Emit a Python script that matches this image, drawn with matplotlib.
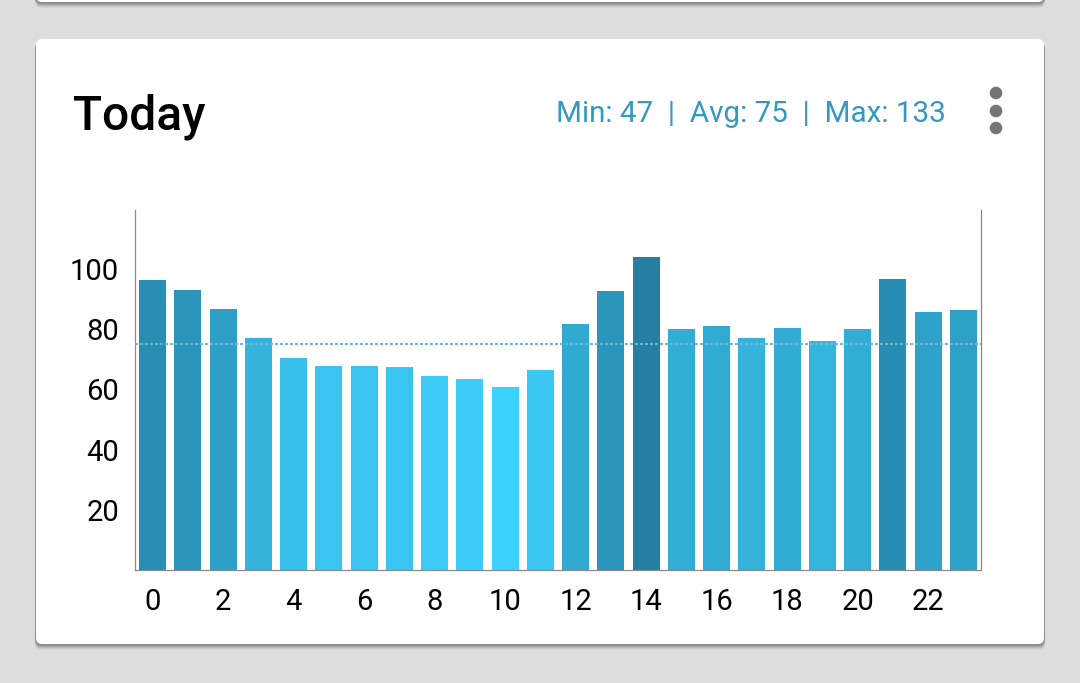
import numpy as np
import matplotlib
matplotlib.use('Agg')
import matplotlib.pyplot as plt
from matplotlib.patches import FancyBboxPatch, Circle
from matplotlib.colors import to_rgb

plt.rcParams['font.family'] = ['Roboto', 'DejaVu Sans']

# --- data ---
hours = list(range(24))
values = [96.3, 93.0, 86.7, 77.1, 70.4, 67.8, 67.8, 67.4, 64.5, 63.5, 60.8, 66.4,
          81.7, 92.7, 104.0, 80.1, 81.1, 77.1, 80.4, 76.1, 80.1, 96.7, 85.7, 86.4]
stat_min = 47
stat_avg = 75
stat_max = 133
x_ticks = list(range(0, 24, 2))
y_ticks = [20, 40, 60, 80, 100]

W, H = 1080, 683
fig = plt.figure(figsize=(W / 100, H / 100), dpi=100)
fig.patch.set_facecolor('#dddddd')
tr = fig.dpi_scale_trans


def inch(px_x, px_y):
    # pixel coords (from top-left) -> inches (from bottom-left)
    return px_x / 100, (H - px_y) / 100


def card(x0, y0, x1, y1):
    # soft shadow under a rounded white card
    for off, a in [(6, 0.04), (5, 0.06), (4, 0.08), (3, 0.10), (2, 0.12)]:
        lx, ly = inch(x0 - 1, y1 + off)
        fig.patches.append(FancyBboxPatch((lx, ly), (x1 - x0 + 2) / 100, (y1 - y0) / 100,
                                          boxstyle='round,pad=0,rounding_size=0.07',
                                          transform=tr, facecolor='black', alpha=a,
                                          edgecolor='none', zorder=0))
    lx, ly = inch(x0, y1)
    fig.patches.append(FancyBboxPatch((lx, ly), (x1 - x0) / 100, (y1 - y0) / 100,
                                      boxstyle='round,pad=0,rounding_size=0.06',
                                      transform=tr, facecolor='white',
                                      edgecolor='none', zorder=1))


card(36, -40, 1044, 2)
card(36, 39, 1044, 644)

# header
x, y = inch(73, 130)
fig.text(x, y, 'Today', transform=tr, fontsize=34.5, fontweight='medium',
         color='black', va='baseline', ha='left', zorder=3)
x, y = inch(946, 122)
fig.text(x, y, f'Min: {stat_min}  |  Avg: {stat_avg}  |  Max: {stat_max}',
         transform=tr, fontsize=21.3, color='#3498c0', va='baseline', ha='right', zorder=3)
for py in [93, 111, 128]:
    cx, cy = inch(996, py)
    fig.patches.append(Circle((cx, cy), 0.063, transform=tr, facecolor='#757575',
                              edgecolor='none', zorder=3))

# chart
ax = fig.add_axes([135 / W, (H - 570) / H, (981 - 135) / W, (570 - 210) / H])
ax.set_facecolor('none')
ax.set_zorder(2)

lo, hi = np.array(to_rgb('#3dd2fe')), np.array(to_rgb('#247fa3'))
vmin, vmax = min(values), max(values)
colors = [lo + (hi - lo) * (v - vmin) / (vmax - vmin) for v in values]

ax.bar(hours, values, width=0.77, color=colors, zorder=2)
ax.axhline(stat_avg, color='#6bb8d8', linewidth=1.5, linestyle=(0, (1.4, 1.0)), zorder=3)

ax.set_xlim(-0.5, 23.5)
ax.set_ylim(0, 119.6)
ax.set_xticks(x_ticks)
ax.set_yticks(y_ticks)
ax.tick_params(axis='both', length=0, labelsize=21, colors='black')
ax.tick_params(axis='x', pad=13)
ax.tick_params(axis='y', pad=11.5)
for s in ['left', 'right', 'bottom']:
    ax.spines[s].set_color('#8a8a8a')
    ax.spines[s].set_linewidth(0.9)
ax.spines['top'].set_visible(False)

fig.savefig('out.png', dpi=100, facecolor=fig.get_facecolor())
